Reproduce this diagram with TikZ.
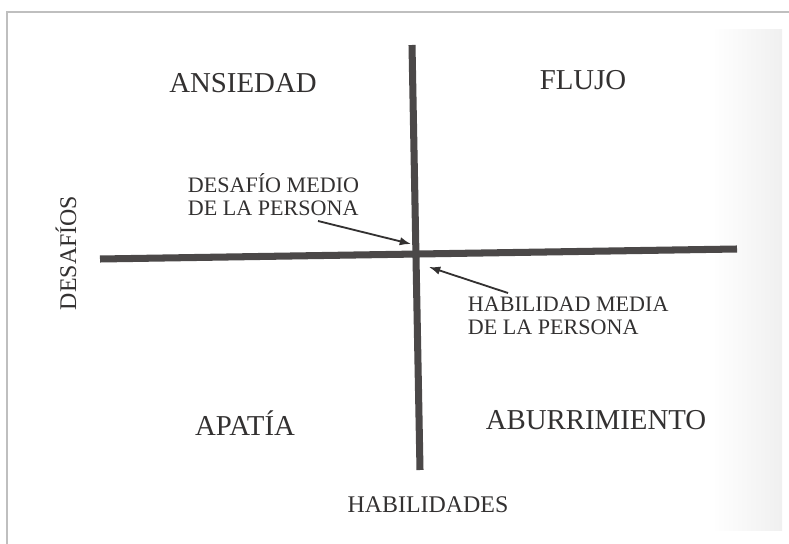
\documentclass[tikz,border=0pt]{standalone}
\usepackage{fontspec}
\setmainfont{Liberation Serif}
\usepackage{tikz}
\usetikzlibrary{arrows.meta}
\definecolor{ink}{HTML}{333131}
\definecolor{axisgray}{HTML}{4B4848}
\tikzstyle{quadLabel} = [text=ink, align=center, font=\fontsize{20.5}{22}\selectfont]
\tikzstyle{noteLabel} = [text=ink, align=left, font=\fontsize{15.7}{16.5}\selectfont]
\tikzstyle{axisName} = [text=ink, font=\fontsize{17}{19}\selectfont]
\tikzstyle{axisLine} = [draw=axisgray, line width=5pt]
\tikzstyle{pointer} = [draw=ink, line width=1.3pt, -{Latex[length=8pt,width=6pt]}]

\begin{document}
\begin{tikzpicture}[x=0.025cm, y=-0.025cm]
  \useasboundingbox (0,0) rectangle (789,544);
  % page and scan edge
  \fill[white] (0,0) rectangle (789,544);
  \shade[left color=white, right color=black!6] (712,30) rectangle (782,530);
  \draw[black!25, line width=0.8pt] (7,544) -- (7,12) -- (789,12);

  % axes
  \coordinate (vtop) at (412,45);
  \coordinate (vbot) at (420,470);
  \coordinate (hleft) at (100,259);
  \coordinate (hright) at (737,249);
  \draw[axisLine] (vtop) -- (vbot);
  \draw[axisLine] (hleft) -- (hright);

  % quadrants
  \node[quadLabel] (ansiedad) at (243,83) {ANSIEDAD};
  \node[quadLabel] (flujo) at (583,80) {FLUJO};
  \node[quadLabel] (apatia) at (245,423) {APATÍA};
  \node[quadLabel] (aburr) at (596,420) {ABURRIMIENTO};

  % notes
  \node[noteLabel, anchor=west] (desmedio) at (183,195) {DESAFÍO MEDIO\\DE LA PERSONA};
  \node[noteLabel, anchor=west] (habmedia) at (463,316) {HABILIDAD MEDIA\\DE LA PERSONA};
  \coordinate (crossUL) at (411,244);
  \coordinate (crossLR) at (429,267);
  \draw[pointer] (318,221) -- (crossUL);
  \draw[pointer] (508,293) -- (crossLR);

  % axis names
  \node[axisName, rotate=90] (desafios) at (66,253) {DESAFÍOS};
  \node[axisName] (habil) at (428,505) {HABILIDADES};
\end{tikzpicture}
\end{document}
